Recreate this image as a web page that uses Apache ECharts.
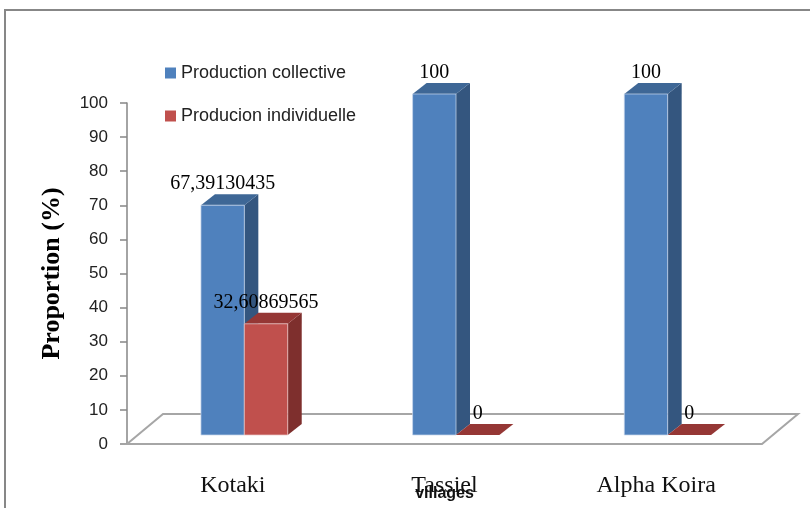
<!DOCTYPE html>
<html>
<head>
<meta charset="utf-8">
<script src="https://cdn.jsdelivr.net/npm/echarts@6/dist/echarts.min.js"></script>
<style>
  html, body { margin: 0; padding: 0; background: #fff; }
  #chart { width: 810px; height: 508px; }
</style>
</head>
<body>
<div id="chart"></div>
<script>
// Villages and production shares (%)
const villages = ['Kotaki', 'Tassiel', 'Alpha Koira'];
const collective = [67.39130435, 100, 100];
const individuelle = [32.60869565, 0, 0];
const seriesNames = ['Production collective', 'Producion individuelle'];
const yTicks = { min: 0, max: 100, interval: 10 };

// pseudo-3D geometry (pixels)
const FLOOR_DX = 36, FLOOR_DY = -30;   // depth of the floor
const FRONT_DX = 11.5, FRONT_DY = -9;  // bars stand mid-depth on the floor
const DEPTH_DX = 14, DEPTH_DY = -11;   // bar thickness in depth
const BAR_FRAC = 0.205;                // bar width as share of category band

const palette = [
  { front: '#4F81BD', top: '#3E6796', side: '#34567F', edge: 'rgba(200,215,235,0.9)' },
  { front: '#C0504D', top: '#953735', side: '#7E2F2D', edge: 'rgba(235,200,200,0.9)' }
];

function fmt(v) { return String(v).replace('.', ','); }

function barRenderer(k) {
  const c = palette[k];
  return function (params, api) {
    const cat = api.value(0), v = api.value(1);
    const band = api.size([1, 0])[0];
    const w = band * BAR_FRAC;
    const p0 = api.coord([cat, 0]);
    const p1 = api.coord([cat, v]);
    const x0 = p0[0] + FRONT_DX + (k === 0 ? -w : 0);
    const x1 = x0 + w;
    const yb = p0[1] + FRONT_DY;
    const yt = p1[1] + FRONT_DY;
    const children = [];
    // side face
    children.push({
      type: 'polygon',
      shape: { points: [[x1, yb], [x1 + DEPTH_DX, yb + DEPTH_DY], [x1 + DEPTH_DX, yt + DEPTH_DY], [x1, yt]] },
      style: { fill: c.side }
    });
    // top face
    children.push({
      type: 'polygon',
      shape: { points: [[x0, yt], [x1, yt], [x1 + DEPTH_DX, yt + DEPTH_DY], [x0 + DEPTH_DX, yt + DEPTH_DY]] },
      style: { fill: c.top }
    });
    // front face
    if (yb - yt > 0.5) {
      children.push({
        type: 'rect',
        shape: { x: x0, y: yt, width: w, height: yb - yt },
        style: { fill: c.front, stroke: c.edge, lineWidth: 0.8 }
      });
    }
    // value label
    children.push({
      type: 'text',
      style: {
        text: fmt(v),
        x: x0 + w / 2,
        y: yt + DEPTH_DY,
        align: 'center',
        verticalAlign: 'bottom',
        fill: '#000',
        font: '20px "Liberation Serif", "Times New Roman", serif'
      },
      z2: 10
    });
    return { type: 'group', children: children };
  };
}

function floorRenderer(params, api) {
  const cs = params.coordSys;
  const xl = cs.x, xr = cs.x + cs.width, yf = cs.y + cs.height;
  return {
    type: 'polygon',
    shape: { points: [[xl, yf], [xr, yf], [xr + FLOOR_DX, yf + FLOOR_DY], [xl + FLOOR_DX, yf + FLOOR_DY]] },
    style: { fill: '#fff', stroke: '#A6A6A6', lineWidth: 2 }
  };
}

const chart = echarts.init(document.getElementById('chart'), null, { renderer: 'canvas', width: 810, height: 508 });

chart.setOption({
  animation: false,
  backgroundColor: '#fff',
  grid: { left: 127, top: 103, width: 635, height: 341, containLabel: false, outerBoundsMode: 'none' },
  legend: {
    orient: 'vertical',
    left: 160,
    top: 59,
    icon: 'rect',
    itemWidth: 11,
    itemHeight: 11,
    itemGap: 25,
    textStyle: { fontFamily: '"Liberation Sans", Arial, sans-serif', fontSize: 18, color: '#222' },
    data: [
      { name: seriesNames[0], itemStyle: { color: palette[0].front } },
      { name: seriesNames[1], itemStyle: { color: palette[1].front } }
    ]
  },
  xAxis: {
    type: 'category',
    data: villages,
    axisLine: { show: false },
    axisTick: { show: false },
    splitLine: { show: false },
    axisLabel: {
      margin: 30,
      fontFamily: '"Liberation Serif", "Times New Roman", serif',
      fontSize: 24,
      color: '#111'
    },
    name: 'villages',
    nameLocation: 'middle',
    nameGap: 42,
    nameMoveOverlap: false,
    nameTextStyle: { fontFamily: '"Liberation Sans", Arial, sans-serif', fontWeight: 'bold', fontSize: 16, color: '#111' }
  },
  yAxis: {
    type: 'value',
    min: yTicks.min,
    max: yTicks.max,
    interval: yTicks.interval,
    axisLine: { show: true, lineStyle: { color: '#868686', width: 1.5 } },
    axisTick: { show: true, length: 7, lineStyle: { color: '#868686', width: 1.5 } },
    splitLine: { show: false },
    axisLabel: {
      margin: 19,
      fontFamily: '"Liberation Sans", Arial, sans-serif',
      fontSize: 17,
      color: '#222'
    },
    name: 'Proportion (%)',
    nameLocation: 'middle',
    nameGap: 62,
    nameTextStyle: { fontFamily: '"Liberation Serif", "Times New Roman", serif', fontWeight: 'bold', fontSize: 26, color: '#000' }
  },
  graphic: [{
    type: 'rect',
    shape: { x: 5, y: 10, width: 840, height: 540 },
    style: { fill: 'none', stroke: '#878787', lineWidth: 2 },
    silent: true
  }],
  series: [
    {
      name: 'floor',
      type: 'custom',
      renderItem: floorRenderer,
      data: [[0, 0]],
      z: 1,
      silent: true
    },
    {
      name: seriesNames[0],
      type: 'custom',
      renderItem: barRenderer(0),
      itemStyle: { color: palette[0].front },
      data: villages.map((_, i) => [i, collective[i]]),
      z: 2
    },
    {
      name: seriesNames[1],
      type: 'custom',
      renderItem: barRenderer(1),
      itemStyle: { color: palette[1].front },
      data: villages.map((_, i) => [i, individuelle[i]]),
      z: 3
    }
  ]
});
</script>
</body>
</html>
